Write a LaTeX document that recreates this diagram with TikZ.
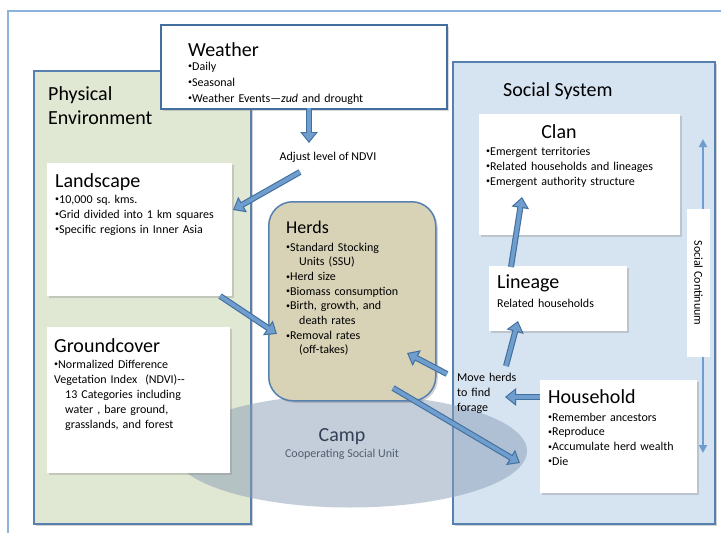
\documentclass[tikz,border=0pt]{standalone}
\usepackage{fontspec}
\setmainfont{Carlito}
\frenchspacing
\usetikzlibrary{arrows.meta,shadows,shapes.geometric}

\definecolor{framecol}{RGB}{141,179,220}
\definecolor{physfill}{RGB}{224,231,210}
\definecolor{socfill}{RGB}{214,227,241}
\definecolor{edgeblue}{RGB}{86,128,176}
\definecolor{wxedge}{RGB}{66,110,160}
\definecolor{herdfill}{RGB}{216,210,182}
\definecolor{campfill}{RGB}{138,159,184}
\definecolor{arrfill}{RGB}{110,157,206}
\definecolor{arredge}{RGB}{66,112,158}
\definecolor{camptext}{RGB}{50,65,85}

\newcommand\bul{\raisebox{0.1em}{\fontsize{8}{8}\selectfont\textbullet}}

\begin{document}
\begin{tikzpicture}[x=1pt,y=-1pt,
  panel/.style={draw=edgeblue, line width=1.5pt, anchor=north west, inner sep=0pt,
    drop shadow={shadow xshift=2pt, shadow yshift=-2pt, opacity=0.35}},
  wbox/.style={fill=white, anchor=north west, inner sep=0pt,
    drop shadow={shadow xshift=2pt, shadow yshift=-2pt, opacity=0.3}},
  title/.style={font=\fontsize{20}{24}\selectfont, inner sep=0pt, anchor=base west},
  body/.style={font=\fontsize{12}{15}\selectfont, inner sep=0pt, anchor=base west, align=left, text width=#1},
  body/.default=200pt,
  bigarrow/.style={preaction={draw=arredge, line width=6pt, shorten >=0pt, -{Triangle[length=11pt,width=17pt]}},
    draw=arrfill, line width=3.8pt, shorten >=1.8pt, -{Triangle[length=8pt,width=12.5pt]}},
  thinarrow/.style={draw=arrfill, line width=2.6pt, -{Triangle[length=8pt,width=8pt]}}
]
\useasboundingbox (0,0) rectangle (721,533);
\fill[white] (0,0) rectangle (721,533);
\draw[framecol, line width=2.2pt] (8,545) -- (8,11) -- (730,11);

% big panels
\node[panel, fill=physfill, minimum width=217pt, minimum height=453pt] (phys) at (33,70) {};
\node[panel, fill=socfill, minimum width=262pt, minimum height=462pt] (soc) at (452,61) {};

% camp ellipse
\node[ellipse, fill=campfill, fill opacity=0.5, minimum width=354pt, minimum height=113pt, inner sep=0pt] (camp) at (350,451) {};
\node[font=\fontsize{20}{24}\selectfont, text=camptext, inner sep=0pt, anchor=base] (campt) at (342,441) {Camp};
\node[font=\fontsize{12}{15}\selectfont, text=camptext!85, inner sep=0pt, anchor=base] (camps) at (342,457) {Cooperating Social Unit};

% weather
\node[wbox, draw=wxedge, line width=1.8pt, minimum width=286pt, minimum height=84pt] (weather) at (160,24) {};
\node[title] (wt) at (188,56) {Weather};
\node[body, font=\fontsize{12}{16}\selectfont] (wb) at (188,70) {\bul Daily\\ \bul Seasonal\\ \bul Weather Events—\textit{zud} and drought};

% panel titles
\node[title, align=left, text width=200pt] (pt) at (48,100) {Physical\\Environment};
\node[title] (st) at (503,96) {Social System};

% landscape
\node[wbox, minimum width=185pt, minimum height=133pt] (land) at (47,163) {};
\node[title] (lt) at (55,187) {Landscape};
\node[body] (lb) at (55,203) {\bul 10,000 sq. kms.\\ \bul Grid divided into 1 km squares\\ \bul Specific regions in Inner Asia};

% groundcover
\node[wbox, minimum width=183pt, minimum height=146pt] (ground) at (47,327) {};
\node[title] (gt) at (54,352) {Groundcover};
\node[body] (gb) at (54,368) {\bul Normalized Difference\\ Vegetation Index~~(NDVI)-{}-\\ \hspace*{11pt}13 Categories including\\ \hspace*{11pt}water , bare ground,\\ \hspace*{11pt}grasslands, and forest};

% herds
\node[draw=edgeblue, line width=1.5pt, fill=herdfill, rounded corners=24pt, anchor=north west, inner sep=0pt,
  minimum width=167pt, minimum height=199pt,
  drop shadow={shadow xshift=2pt, shadow yshift=-2pt, opacity=0.35}] (herds) at (268,201) {};
\node[title, font=\fontsize{18}{22}\selectfont] (ht) at (286,233) {Herds};
\node[body, font=\fontsize{12}{14.7}\selectfont] (hb) at (286,251) {\bul Standard Stocking\\ \hspace*{13pt}Units (SSU)\\ \bul Herd size\\ \bul Biomass consumption\\ \bul Birth, growth, and\\ \hspace*{13pt}death rates\\ \bul Removal rates\\ \hspace*{13pt}(off-takes)};

% clan
\node[wbox, minimum width=201pt, minimum height=121pt] (clan) at (479,114) {};
\node[title, anchor=base] (ct) at (559,138) {Clan};
\node[body] (cb) at (486,155) {\bul Emergent territories\\ \bul Related households and lineages\\ \bul Emergent authority structure};

% lineage
\node[wbox, minimum width=138pt, minimum height=65pt] (lineage) at (489,266) {};
\node[title] (lit) at (497,288) {Lineage};
\node[body] (lib) at (497,307) {Related households};

% household
\node[wbox, minimum width=157pt, minimum height=113pt] (house) at (540,380) {};
\node[title] (hot) at (548,403) {Household};
\node[body, font=\fontsize{12}{14.7}\selectfont] (hob) at (548,421) {\bul Remember ancestors\\ \bul Reproduce\\ \bul Accumulate herd wealth\\ \bul Die};

% labels
\node[font=\fontsize{12}{15}\selectfont, inner sep=0pt] (ndvi) at (328,157) {Adjust level of NDVI};
\node[body] (move) at (457,381) {Move herds\\ to find\\ forage};
\node[fill=white, rotate=-90, font=\fontsize{12}{15}\selectfont, minimum width=148pt, minimum height=23pt, inner sep=0pt] (cont) at (698.5,283) {Social Continuum};

% connector end points
\coordinate (a1s) at (309,108); \coordinate (a1e) at (309,143);
\coordinate (a2s) at (300,172); \coordinate (a2e) at (233,210);
\coordinate (a3s) at (220,296); \coordinate (a3e) at (277,334);
\coordinate (a4s) at (447,374); \coordinate (a4e) at (407,353);
\coordinate (a5s) at (393,388); \coordinate (a5e) at (520,463);
\coordinate (a6s) at (540,397); \coordinate (a6e) at (505,397);
\coordinate (a7s) at (506,366); \coordinate (a7e) at (518,321);
\coordinate (a8s) at (511,267); \coordinate (a8e) at (522,197);
\coordinate (c1) at (703,139); \coordinate (c2) at (703,453);

\draw[bigarrow] (a1s) -- (a1e);
\draw[bigarrow] (a2s) -- (a2e);
\draw[bigarrow] (a3s) -- (a3e);
\draw[bigarrow] (a4s) -- (a4e);
\draw[bigarrow] (a5s) -- (a5e);
\draw[bigarrow] (a6s) -- (a6e);
\draw[bigarrow] (a7s) -- (a7e);
\draw[bigarrow] (a8s) -- (a8e);
\draw[thinarrow] (cont.west -| c1) -- (c1);
\draw[thinarrow] (cont.east -| c2) -- (c2);
\end{tikzpicture}
\end{document}
